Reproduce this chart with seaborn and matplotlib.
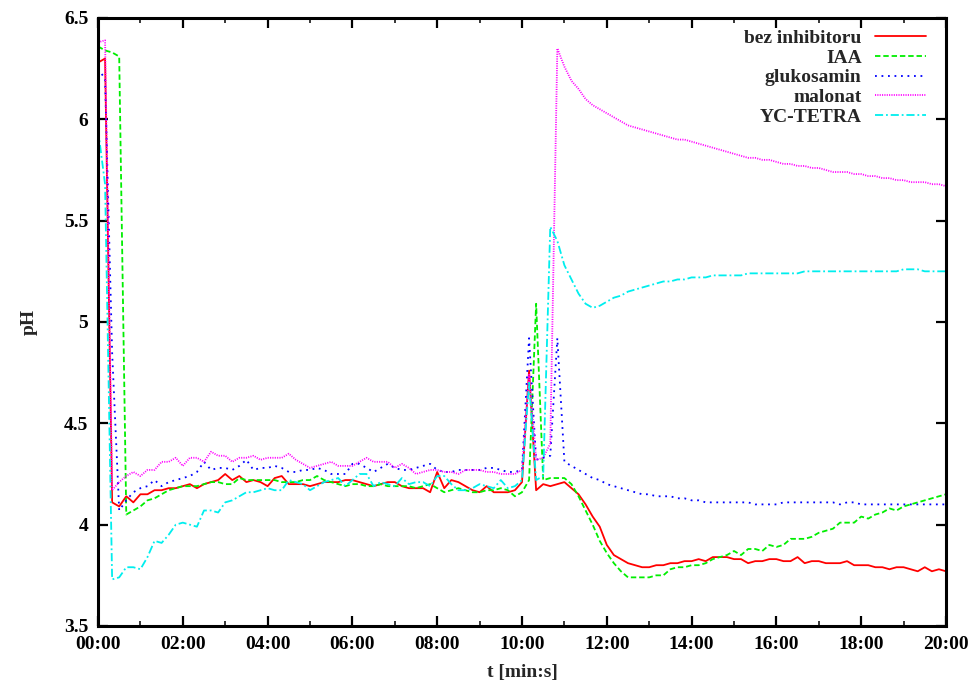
import numpy as np
import pandas as pd
import matplotlib
matplotlib.use("Agg")
import matplotlib.pyplot as plt
from matplotlib.ticker import MultipleLocator, FuncFormatter
import seaborn as sns

# sampling grid: one reading every 10 s, 0 .. 20 min
time_s = np.arange(0, 1201, 10)
time_min = time_s / 60.0

bez_inhibitoru = [
    6.28, 6.30, 4.11, 4.09, 4.14, 4.11, 4.15, 4.15, 4.17, 4.17, 4.18, 4.18,
    4.19, 4.20, 4.18, 4.20, 4.21, 4.22, 4.25, 4.22, 4.24, 4.21, 4.22, 4.21,
    4.19, 4.23, 4.24, 4.20, 4.20, 4.20, 4.19, 4.20, 4.21, 4.21, 4.21, 4.22,
    4.22, 4.21, 4.20, 4.19, 4.20, 4.21, 4.21, 4.19, 4.18, 4.18, 4.18, 4.16,
    4.26, 4.18, 4.22, 4.21, 4.19, 4.17, 4.16, 4.19, 4.16, 4.16, 4.16, 4.17,
    4.21, 4.76, 4.17, 4.20, 4.19, 4.20, 4.21, 4.18, 4.15, 4.10, 4.04, 3.99,
    3.90, 3.85, 3.83, 3.81, 3.80, 3.79, 3.79, 3.80, 3.80, 3.81, 3.81, 3.82,
    3.82, 3.83, 3.82, 3.84, 3.84, 3.84, 3.83, 3.83, 3.81, 3.82, 3.82, 3.83,
    3.83, 3.82, 3.82, 3.84, 3.81, 3.82, 3.82, 3.81, 3.81, 3.81, 3.82, 3.80,
    3.80, 3.80, 3.79, 3.79, 3.78, 3.79, 3.79, 3.78, 3.77, 3.79, 3.77, 3.78,
    3.77,
]

iaa = [
    6.36, 6.34, 6.33, 6.31, 4.05, 4.07, 4.09, 4.12, 4.13, 4.15, 4.17, 4.18,
    4.19, 4.19, 4.19, 4.20, 4.21, 4.21, 4.20, 4.20, 4.23, 4.22, 4.22, 4.22,
    4.22, 4.22, 4.21, 4.21, 4.21, 4.22, 4.22, 4.24, 4.22, 4.21, 4.20, 4.19,
    4.20, 4.20, 4.19, 4.19, 4.20, 4.19, 4.19, 4.19, 4.19, 4.18, 4.19, 4.20,
    4.18, 4.16, 4.17, 4.18, 4.17, 4.16, 4.16, 4.17, 4.17, 4.18, 4.17, 4.14,
    4.16, 4.22, 5.09, 4.22, 4.23, 4.23, 4.23, 4.20, 4.14, 4.07, 4.00, 3.92,
    3.86, 3.81, 3.77, 3.74, 3.74, 3.74, 3.74, 3.75, 3.75, 3.78, 3.79, 3.79,
    3.80, 3.80, 3.81, 3.83, 3.84, 3.85, 3.87, 3.85, 3.88, 3.88, 3.87, 3.90,
    3.89, 3.90, 3.93, 3.93, 3.93, 3.94, 3.96, 3.97, 3.98, 4.01, 4.01, 4.01,
    4.04, 4.03, 4.05, 4.06, 4.08, 4.07, 4.09, 4.10, 4.11, 4.12, 4.13, 4.14,
    4.15,
]

glukosamin = [
    6.25, 6.20, 4.85, 4.07, 4.12, 4.16, 4.18, 4.19, 4.22, 4.19, 4.21, 4.22,
    4.23, 4.24, 4.26, 4.31, 4.27, 4.28, 4.28, 4.27, 4.29, 4.32, 4.27, 4.28,
    4.28, 4.29, 4.28, 4.26, 4.26, 4.27, 4.27, 4.28, 4.27, 4.25, 4.25, 4.25,
    4.30, 4.30, 4.28, 4.26, 4.28, 4.30, 4.28, 4.27, 4.27, 4.28, 4.29, 4.30,
    4.27, 4.26, 4.26, 4.27, 4.27, 4.27, 4.27, 4.28, 4.28, 4.27, 4.26, 4.26,
    4.27, 4.92, 4.32, 4.33, 4.34, 4.92, 4.31, 4.29, 4.27, 4.25, 4.23, 4.22,
    4.20, 4.19, 4.18, 4.17, 4.16, 4.15, 4.15, 4.14, 4.14, 4.14, 4.13, 4.13,
    4.12, 4.12, 4.11, 4.11, 4.11, 4.11, 4.11, 4.11, 4.11, 4.10, 4.10, 4.10,
    4.10, 4.11, 4.11, 4.11, 4.11, 4.11, 4.11, 4.11, 4.11, 4.10, 4.11, 4.11,
    4.10, 4.10, 4.10, 4.10, 4.10, 4.10, 4.10, 4.10, 4.10, 4.10, 4.10, 4.10,
    4.10,
]

malonat = [
    6.38, 6.39, 4.17, 4.21, 4.24, 4.26, 4.24, 4.27, 4.27, 4.31, 4.31, 4.33,
    4.29, 4.33, 4.33, 4.31, 4.36, 4.34, 4.34, 4.31, 4.33, 4.33, 4.34, 4.32,
    4.33, 4.33, 4.33, 4.35, 4.32, 4.30, 4.28, 4.29, 4.30, 4.31, 4.29, 4.29,
    4.29, 4.31, 4.33, 4.31, 4.31, 4.31, 4.28, 4.30, 4.28, 4.25, 4.26, 4.27,
    4.27, 4.26, 4.26, 4.25, 4.27, 4.27, 4.27, 4.26, 4.26, 4.25, 4.25, 4.25,
    4.27, 4.74, 4.32, 4.33, 4.40, 6.35, 6.26, 6.19, 6.15, 6.10, 6.07, 6.05,
    6.03, 6.01, 5.99, 5.97, 5.96, 5.95, 5.94, 5.93, 5.92, 5.91, 5.90, 5.90,
    5.89, 5.88, 5.87, 5.86, 5.85, 5.84, 5.83, 5.82, 5.81, 5.81, 5.80, 5.80,
    5.79, 5.78, 5.78, 5.77, 5.77, 5.76, 5.76, 5.75, 5.74, 5.74, 5.74, 5.73,
    5.73, 5.72, 5.72, 5.71, 5.71, 5.70, 5.70, 5.69, 5.69, 5.69, 5.68, 5.68,
    5.67,
]

yc_tetra = [
    5.95, 5.68, 3.73, 3.74, 3.79, 3.79, 3.78, 3.84, 3.92, 3.91, 3.95, 4.00,
    4.01, 4.00, 3.99, 4.07, 4.07, 4.06, 4.11, 4.12, 4.14, 4.16, 4.16, 4.17,
    4.18, 4.17, 4.17, 4.22, 4.21, 4.20, 4.17, 4.19, 4.21, 4.22, 4.23, 4.19,
    4.22, 4.25, 4.25, 4.19, 4.21, 4.20, 4.19, 4.23, 4.20, 4.21, 4.21, 4.19,
    4.24, 4.24, 4.20, 4.17, 4.17, 4.18, 4.20, 4.19, 4.18, 4.22, 4.18, 4.19,
    4.22, 4.70, 4.22, 4.24, 5.47, 5.40, 5.28, 5.21, 5.14, 5.09, 5.07, 5.08,
    5.10, 5.12, 5.13, 5.15, 5.16, 5.17, 5.18, 5.19, 5.20, 5.20, 5.21, 5.21,
    5.22, 5.22, 5.22, 5.23, 5.23, 5.23, 5.23, 5.23, 5.24, 5.24, 5.24, 5.24,
    5.24, 5.24, 5.24, 5.24, 5.25, 5.25, 5.25, 5.25, 5.25, 5.25, 5.25, 5.25,
    5.25, 5.25, 5.25, 5.25, 5.25, 5.25, 5.26, 5.26, 5.26, 5.25, 5.25, 5.25,
    5.25,
]

series_names = ["bez inhibitoru", "IAA", "glukosamin", "malonat", "YC-TETRA"]
series_values = [bez_inhibitoru, iaa, glukosamin, malonat, yc_tetra]
colors = ["#ff0000", "#00ee00", "#0000ff", "#ff00ff", "#00eeee"]
dash_styles = ["", (3.0, 1.6), (1.0, 2.6), (0.6, 0.7), (4.5, 1.6, 1.0, 1.6)]

x_ticks = list(range(0, 21, 2))
y_ticks = [3.5, 4.0, 4.5, 5.0, 5.5, 6.0, 6.5]

frames = []
for name, vals in zip(series_names, series_values):
    frames.append(pd.DataFrame({"t": time_min, "pH": vals, "series": name}))
df = pd.concat(frames, ignore_index=True)

sns.set_theme(style="ticks")
plt.rcParams["font.family"] = ["Liberation Serif", "DejaVu Serif"]
plt.rcParams["font.weight"] = "bold"

fig = plt.figure(figsize=(9.69, 6.81), dpi=100)
ax = fig.add_axes([98 / 969, 55 / 681, 848 / 969, 608 / 681])

sns.lineplot(
    data=df, x="t", y="pH", hue="series", style="series",
    hue_order=series_names, style_order=series_names,
    palette=dict(zip(series_names, colors)),
    dashes=dict(zip(series_names, dash_styles)),
    estimator=None, sort=False, linewidth=1.3, ax=ax,
)

ax.set_xlim(0, 20)
ax.set_ylim(3.5, 6.5)
ax.set_xticks(x_ticks)
ax.xaxis.set_minor_locator(MultipleLocator(1))
ax.set_yticks(y_ticks)
ax.xaxis.set_major_formatter(FuncFormatter(lambda v, p: "%02d:00" % int(round(v))))
ax.yaxis.set_major_formatter(FuncFormatter(lambda v, p: ("%g" % v)))

for sp in ax.spines.values():
    sp.set_linewidth(2.2)
    sp.set_color("black")
    sp.set_visible(True)

ax.tick_params(axis="both", which="major", direction="in", length=7, width=1.6,
               top=True, right=True, labelsize=14, pad=7, colors="black")
ax.tick_params(axis="x", which="minor", direction="in", length=3.5, width=1.3,
               top=True, bottom=True)
for lab in ax.get_xticklabels() + ax.get_yticklabels():
    lab.set_fontweight("bold")

ax.set_xlabel("t [min:s]", fontsize=14, fontweight="bold", labelpad=8)
ax.set_ylabel("pH", fontsize=14, fontweight="bold", labelpad=19)

handles, labels = ax.get_legend_handles_labels()
leg = ax.legend(handles, labels, loc="upper right", frameon=False,
                markerfirst=False, fontsize=14, handlelength=2.6,
                handletextpad=0.7, labelspacing=0.1,
                borderaxespad=0.2, bbox_to_anchor=(0.99, 1.0))
for txt in leg.get_texts():
    txt.set_fontweight("bold")
for line in leg.get_lines():
    line.set_linewidth(1.3)

fig.savefig("out.png", dpi=100)
